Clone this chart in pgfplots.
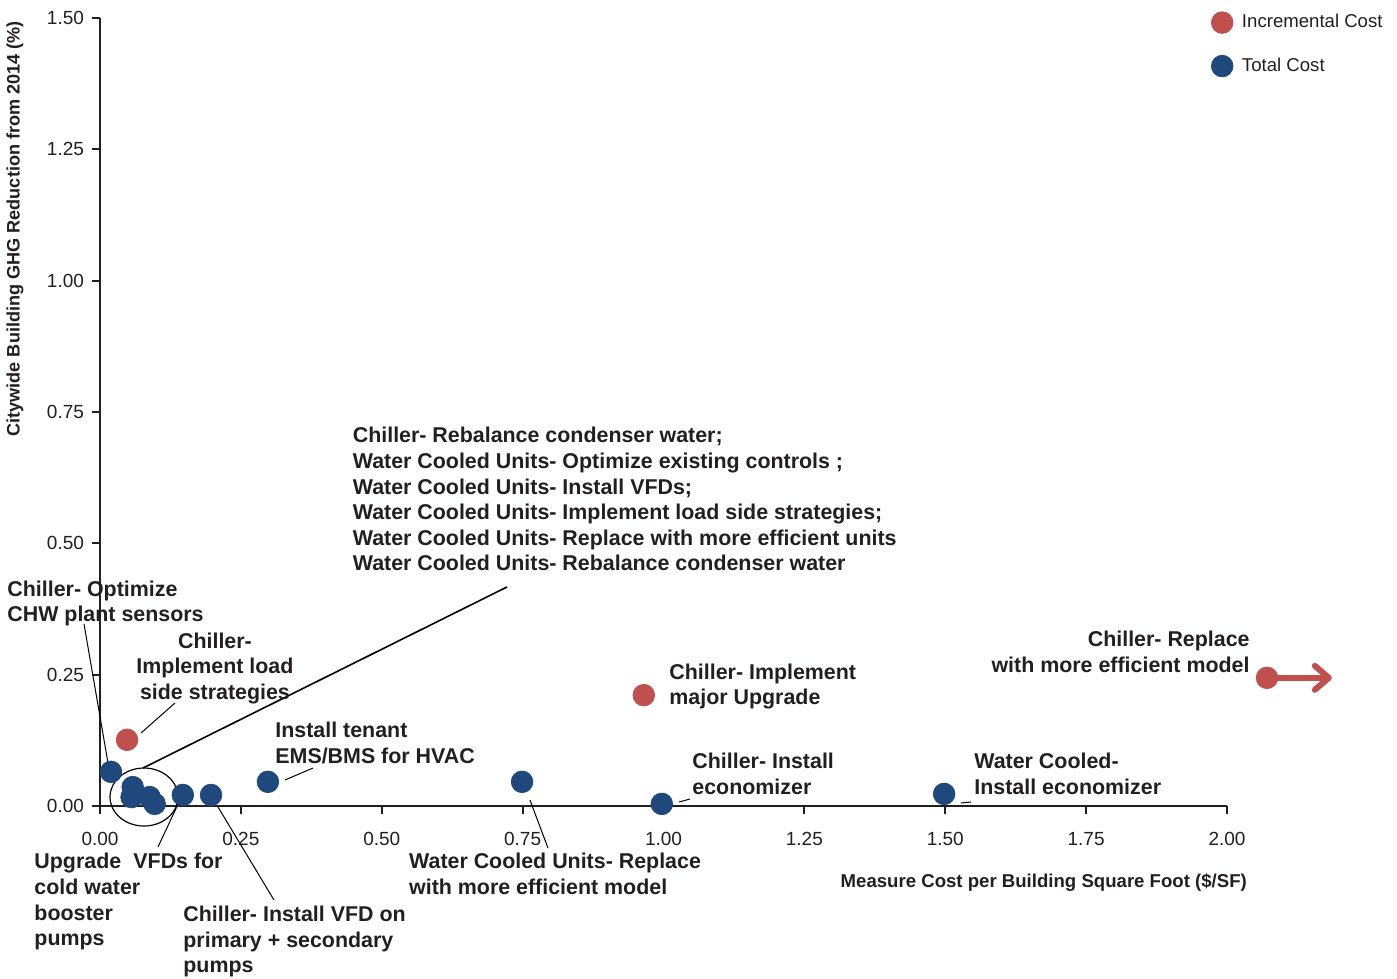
\documentclass[border=0pt]{standalone}
\usepackage{pgfplots}
\pgfplotsset{compat=1.18}
\usepackage{fontspec}
\setmainfont{Liberation Sans}
\usetikzlibrary{arrows.meta}
\definecolor{incred}{RGB}{192,80,77}
\definecolor{totblue}{RGB}{31,73,125}
\definecolor{txt}{RGB}{35,31,32}
\newcommand{\ann}{\fontsize{10.7}{12.8}\selectfont\bfseries}
\pgfplotsset{dotlegend/.style={legend image code/.code={\draw[##1] plot coordinates {(0pt,0pt)};}}}
\begin{document}
\begin{tikzpicture}
\begin{axis}[
  name=ax,
  scale only axis, width=563.5pt, height=394pt,
  xmin=0, xmax=2, ymin=0, ymax=1.5,
  axis lines*=left,
  axis line style={line width=1pt, color=txt},
  xtick={0,0.25,0.5,0.75,1,1.25,1.5,1.75,2},
  ytick={0,0.25,0.5,0.75,1,1.25,1.5},
  tick align=outside, major tick length=4pt,
  tick style={line width=1pt, color=txt},
  /pgf/number format/assume math mode=true,
  xticklabel style={/pgf/number format/fixed, /pgf/number format/fixed zerofill, /pgf/number format/precision=2, yshift=-5.5pt},
  yticklabel style={/pgf/number format/fixed, /pgf/number format/fixed zerofill, /pgf/number format/precision=2, xshift=-0.5pt},
  ticklabel style={font=\fontsize{9.5}{11}\selectfont, text=txt},
  clip=false,
  xlabel={Measure Cost per Building Square Foot (\$/SF)},
  xlabel style={font=\fontsize{9.3}{11}\selectfont\bfseries, text=txt, at={(axis description cs:1.0239,-0.0977)}, anchor=east},
  ylabel={Citywide Building GHG Reduction from 2014 (\%)},
  ylabel style={font=\fontsize{9.05}{11}\selectfont\bfseries, text=txt, at={(axis description cs:-0.0754,1.005)}, anchor=east},
  legend style={draw=none, fill=none, at={(axis description cs:0.9858,1.0102)}, anchor=north west, inner sep=0pt, row sep=9.5pt, font=\fontsize{9.3}{11}\selectfont, text=txt, /tikz/every odd column/.append style={column sep=2.5pt}},
  legend cell align=left,
]
\draw[incred, line width=3pt, -{Straight Barb[length=7pt, width=12pt, round]}] (axis cs:2.071,0.244) -- (axis cs:2.186,0.244);
\addplot[only marks, mark=*, mark size=5.4pt, color=incred, dotlegend]
  coordinates {(0.048,0.126) (0.965,0.211) (2.071,0.244)};
\addlegendentry{Incremental Cost}
\addplot[only marks, mark=*, mark size=5.4pt, color=totblue, dotlegend]
  coordinates {(0.0195,0.065) (0.058,0.036) (0.056,0.017) (0.088,0.017) (0.097,0.004)
  (0.147,0.021) (0.197,0.021) (0.298,0.046) (0.749,0.046) (0.997,0.004) (1.498,0.023)};
\addlegendentry{Total Cost}
% ellipse around cluster
\draw[line width=0.6pt, black] (axis cs:0.0781,0.0171) ellipse [x radius=17pt, y radius=14.5pt];
% leader lines
\draw[line width=0.8pt, black] (axis cs:0.7223,0.4169) -- (axis cs:0.0763,0.0723);
\draw[line width=0.5pt, black] (axis cs:-0.0284,0.3465) -- (axis cs:0.0142,0.0819);
\draw[line width=0.5pt, black] (axis cs:0.1331,0.1961) -- (axis cs:0.0728,0.139);
\draw[line width=0.5pt, black] (axis cs:0.378,0.0723) -- (axis cs:0.3283,0.0495);
\draw[line width=0.5pt, black] (axis cs:0.142,0.0114) -- (axis cs:0.1029,-0.078);
\draw[line width=0.5pt, black] (axis cs:0.2094,-0.0019) -- (axis cs:0.3088,-0.179);
\draw[line width=0.5pt, black] (axis cs:0.763,0.0114) -- (axis cs:0.795,-0.080);
\draw[line width=0.5pt, black] (axis cs:1.0275,0.0076) -- (axis cs:1.047,0.0133);
\draw[line width=0.5pt, black] (axis cs:1.528,0.0057) -- (axis cs:1.5457,0.0076);
% annotations
\node[anchor=north west, align=left, inner sep=0pt, font=\ann, text=txt] at (axis cs:0.448,0.7215)
  {Chiller- Rebalance condenser water;\\Water Cooled Units- Optimize existing controls ;\\Water Cooled Units- Install VFDs;\\Water Cooled Units- Implement load side strategies;\\Water Cooled Units- Replace with more efficient units\\Water Cooled Units- Rebalance condenser water};
\node[anchor=north west, align=left, inner sep=0pt, font=\ann, text=txt] at (axis cs:-0.165,0.430)
  {Chiller- Optimize\\CHW plant sensors};
\node[anchor=north, align=center, inner sep=0pt, font=\ann, text=txt] at (axis cs:0.204,0.331)
  {Chiller-\\Implement load\\side strategies};
\node[anchor=north west, align=left, inner sep=0pt, font=\ann, text=txt] at (axis cs:0.3106,0.160)
  {Install tenant\\EMS/BMS for HVAC};
\node[anchor=north west, align=left, inner sep=0pt, font=\ann, text=txt] at (axis cs:1.0098,0.272)
  {Chiller- Implement\\major Upgrade};
\node[anchor=north east, align=right, inner sep=0pt, font=\ann, text=txt] at (axis cs:2.0408,0.333)
  {Chiller- Replace\\with more efficient model};
\node[anchor=north west, align=left, inner sep=0pt, font=\ann, text=txt] at (axis cs:1.0506,0.101)
  {Chiller- Install\\economizer};
\node[anchor=north west, align=left, inner sep=0pt, font=\ann, text=txt] at (axis cs:1.551,0.101)
  {Water Cooled-\\Install economizer};
\node[anchor=north west, align=left, inner sep=0pt, font=\ann, text=txt] at (axis cs:0.548,-0.0895)
  {Water Cooled Units- Replace\\with more efficient model};
\node[anchor=north west, align=left, inner sep=0pt, font=\ann, text=txt] at (axis cs:-0.117,-0.0895)
  {Upgrade\\cold water\\booster\\pumps};
\node[anchor=north west, align=left, inner sep=0pt, font=\ann, text=txt] at (axis cs:0.0586,-0.0895)
  {VFDs for};
\node[anchor=north west, align=left, inner sep=0pt, font=\ann, text=txt] at (axis cs:0.1473,-0.190)
  {Chiller- Install VFD on\\primary + secondary\\pumps};
\end{axis}
\pgfresetboundingbox
\path[use as bounding box] ([xshift=-50pt,yshift=-86.5pt]ax.south west) rectangle ([xshift=85pt,yshift=9pt]ax.north east);
\end{tikzpicture}
\end{document}
